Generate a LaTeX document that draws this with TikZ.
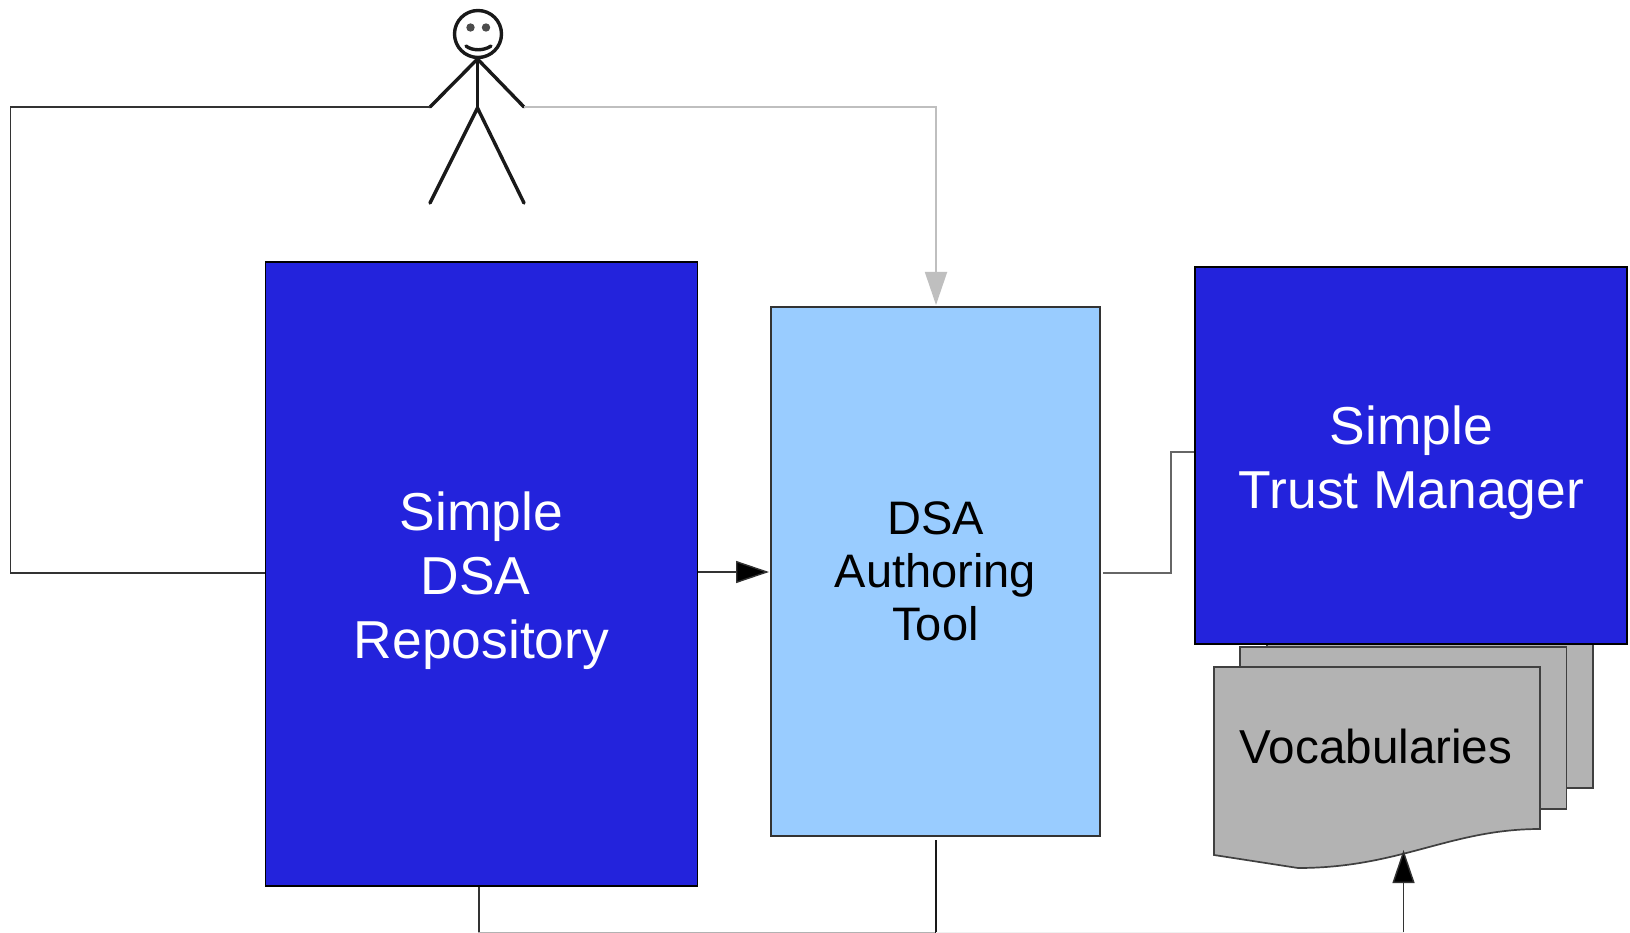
\documentclass[tikz,border=0pt]{standalone}
\usepackage{fontspec}
\setmainfont{Liberation Sans}
\usetikzlibrary{arrows.meta}
\definecolor{dsablue}{HTML}{2323DC}
\definecolor{toolblue}{HTML}{99CCFF}
\definecolor{docgrey}{HTML}{B3B3B3}
\definecolor{lineDark}{HTML}{333333}
\tikzset{
  x=1pt,y=-1pt,
  darkbox/.style={draw=black,line width=1.6pt,fill=dsablue,inner sep=0pt},
  darktext/.style={text=white,inner sep=0pt,align=center,font=\fontsize{53.4}{64}\selectfont},
  toolbox/.style={draw=lineDark,line width=1.2pt,fill=toolblue,text=black,inner sep=0pt,align=center,font=\fontsize{47}{53}\selectfont},
  docshape/.style={draw=black!75,line width=1.7pt,fill=docgrey},
  figure/.style={draw=black!90,line width=3.4pt,line cap=round,line join=round},
  conn/.style={draw=lineDark,line width=1.4pt},
  tipblack/.style={-{Triangle[length=33pt,width=22pt,fill=black]}},
  tipgrey/.style={-{Triangle[length=33pt,width=22pt,fill=black!25,color=black!25]}}
}
\begin{document}
\begin{tikzpicture}
\useasboundingbox (0,0) rectangle (1630,933);
\fill[white] (0,0) rectangle (1630,933);
% documents
\draw[docshape] (1267,640) rectangle (1593,788);
\draw[docshape] (1240,647) rectangle (1566.5,809);
\draw[docshape] (1214,667) -- (1540,667) -- (1540,829)
  .. controls (1450,829) and (1400,868) .. (1298,868) -- (1214,855) -- cycle;
\node[text=black,font=\fontsize{47.6}{53}\selectfont,inner sep=0pt] (vocab) at (1376,746.5) {Vocabularies};
% boxes
\node[darkbox,minimum width=432pt,minimum height=624pt] (repo) at (481.5,574) {};
\node[darktext] (repolabel) at (481.5,580.5) {Simple\\\mbox{DSA\hspace{12pt}}\\Repository};
\node[toolbox,minimum width=329pt,minimum height=529pt] (tool) at (935.5,571.5) {DSA\\Authoring\\Tool};
\node[darkbox,minimum width=432pt,minimum height=377pt] (trust) at (1411,455.5) {};
\node[darktext] (trustlabel) at (1411.5,462.5) {Simple\\Trust Manager};
% stick figure
\node[draw=black!90,line width=3.4pt,circle,minimum size=47pt,inner sep=0pt] (head) at (478,34) {};
\fill[black!70] (470.5,27.5) circle (4.2pt) (486,27.5) circle (4.2pt);
\draw[figure] (466,46) .. controls (472,51) and (484,51) .. (491,46);
\coordinate (neck) at (477.5,59);
\coordinate (hip) at (477.5,108);
\coordinate (lhand) at (430,107);
\coordinate (rhand) at (524,107);
\coordinate (lfoot) at (430,203);
\coordinate (rfoot) at (524,203);
\draw[figure] (lhand) -- (neck) -- (rhand);
\draw[figure] (neck) -- (hip);
\draw[figure] (lfoot) -- (hip) -- (rfoot);
% connectors
\coordinate (leftbend) at (10.5,107);
\coordinate (repoin) at (repo.west |- 0,573);
\draw[conn] (lhand) -- (leftbend) |- (repoin);
\coordinate (toolin) at (936,305);
\draw[draw=black!25,line width=1.8pt,tipgrey] (rhand) -| (toolin);
\draw[conn,tipblack] (repo.east |- 0,572) -- (769,572);
\coordinate (toolout) at (1103,573);
\coordinate (trustin) at (trust.west |- 0,452);
\draw[draw=black!60,line width=1.6pt] (toolout) -- (1171,573) -- (1171,452) -- (trustin);
\coordinate (base) at (936,932.5);
\coordinate (toolunder) at (936,840);
\coordinate (repoout) at (repo.south -| 479,0);
\draw[draw=black!30,line width=1.5pt] (repoout) -- (479,932.5) -- (base);
\draw[conn] (repoout) -- (479,932);
\draw[draw=black!90,line width=2.2pt] (toolunder) -- (936,933);
\coordinate (vocabin) at (1403.5,850);
\coordinate (vocabfoot) at (1403.5,933);
\draw[conn,tipblack] (vocabfoot) -- (vocabin);
\draw[draw=black!6,line width=1pt] (base) -- (1403.5,932.5);
\end{tikzpicture}
\end{document}
